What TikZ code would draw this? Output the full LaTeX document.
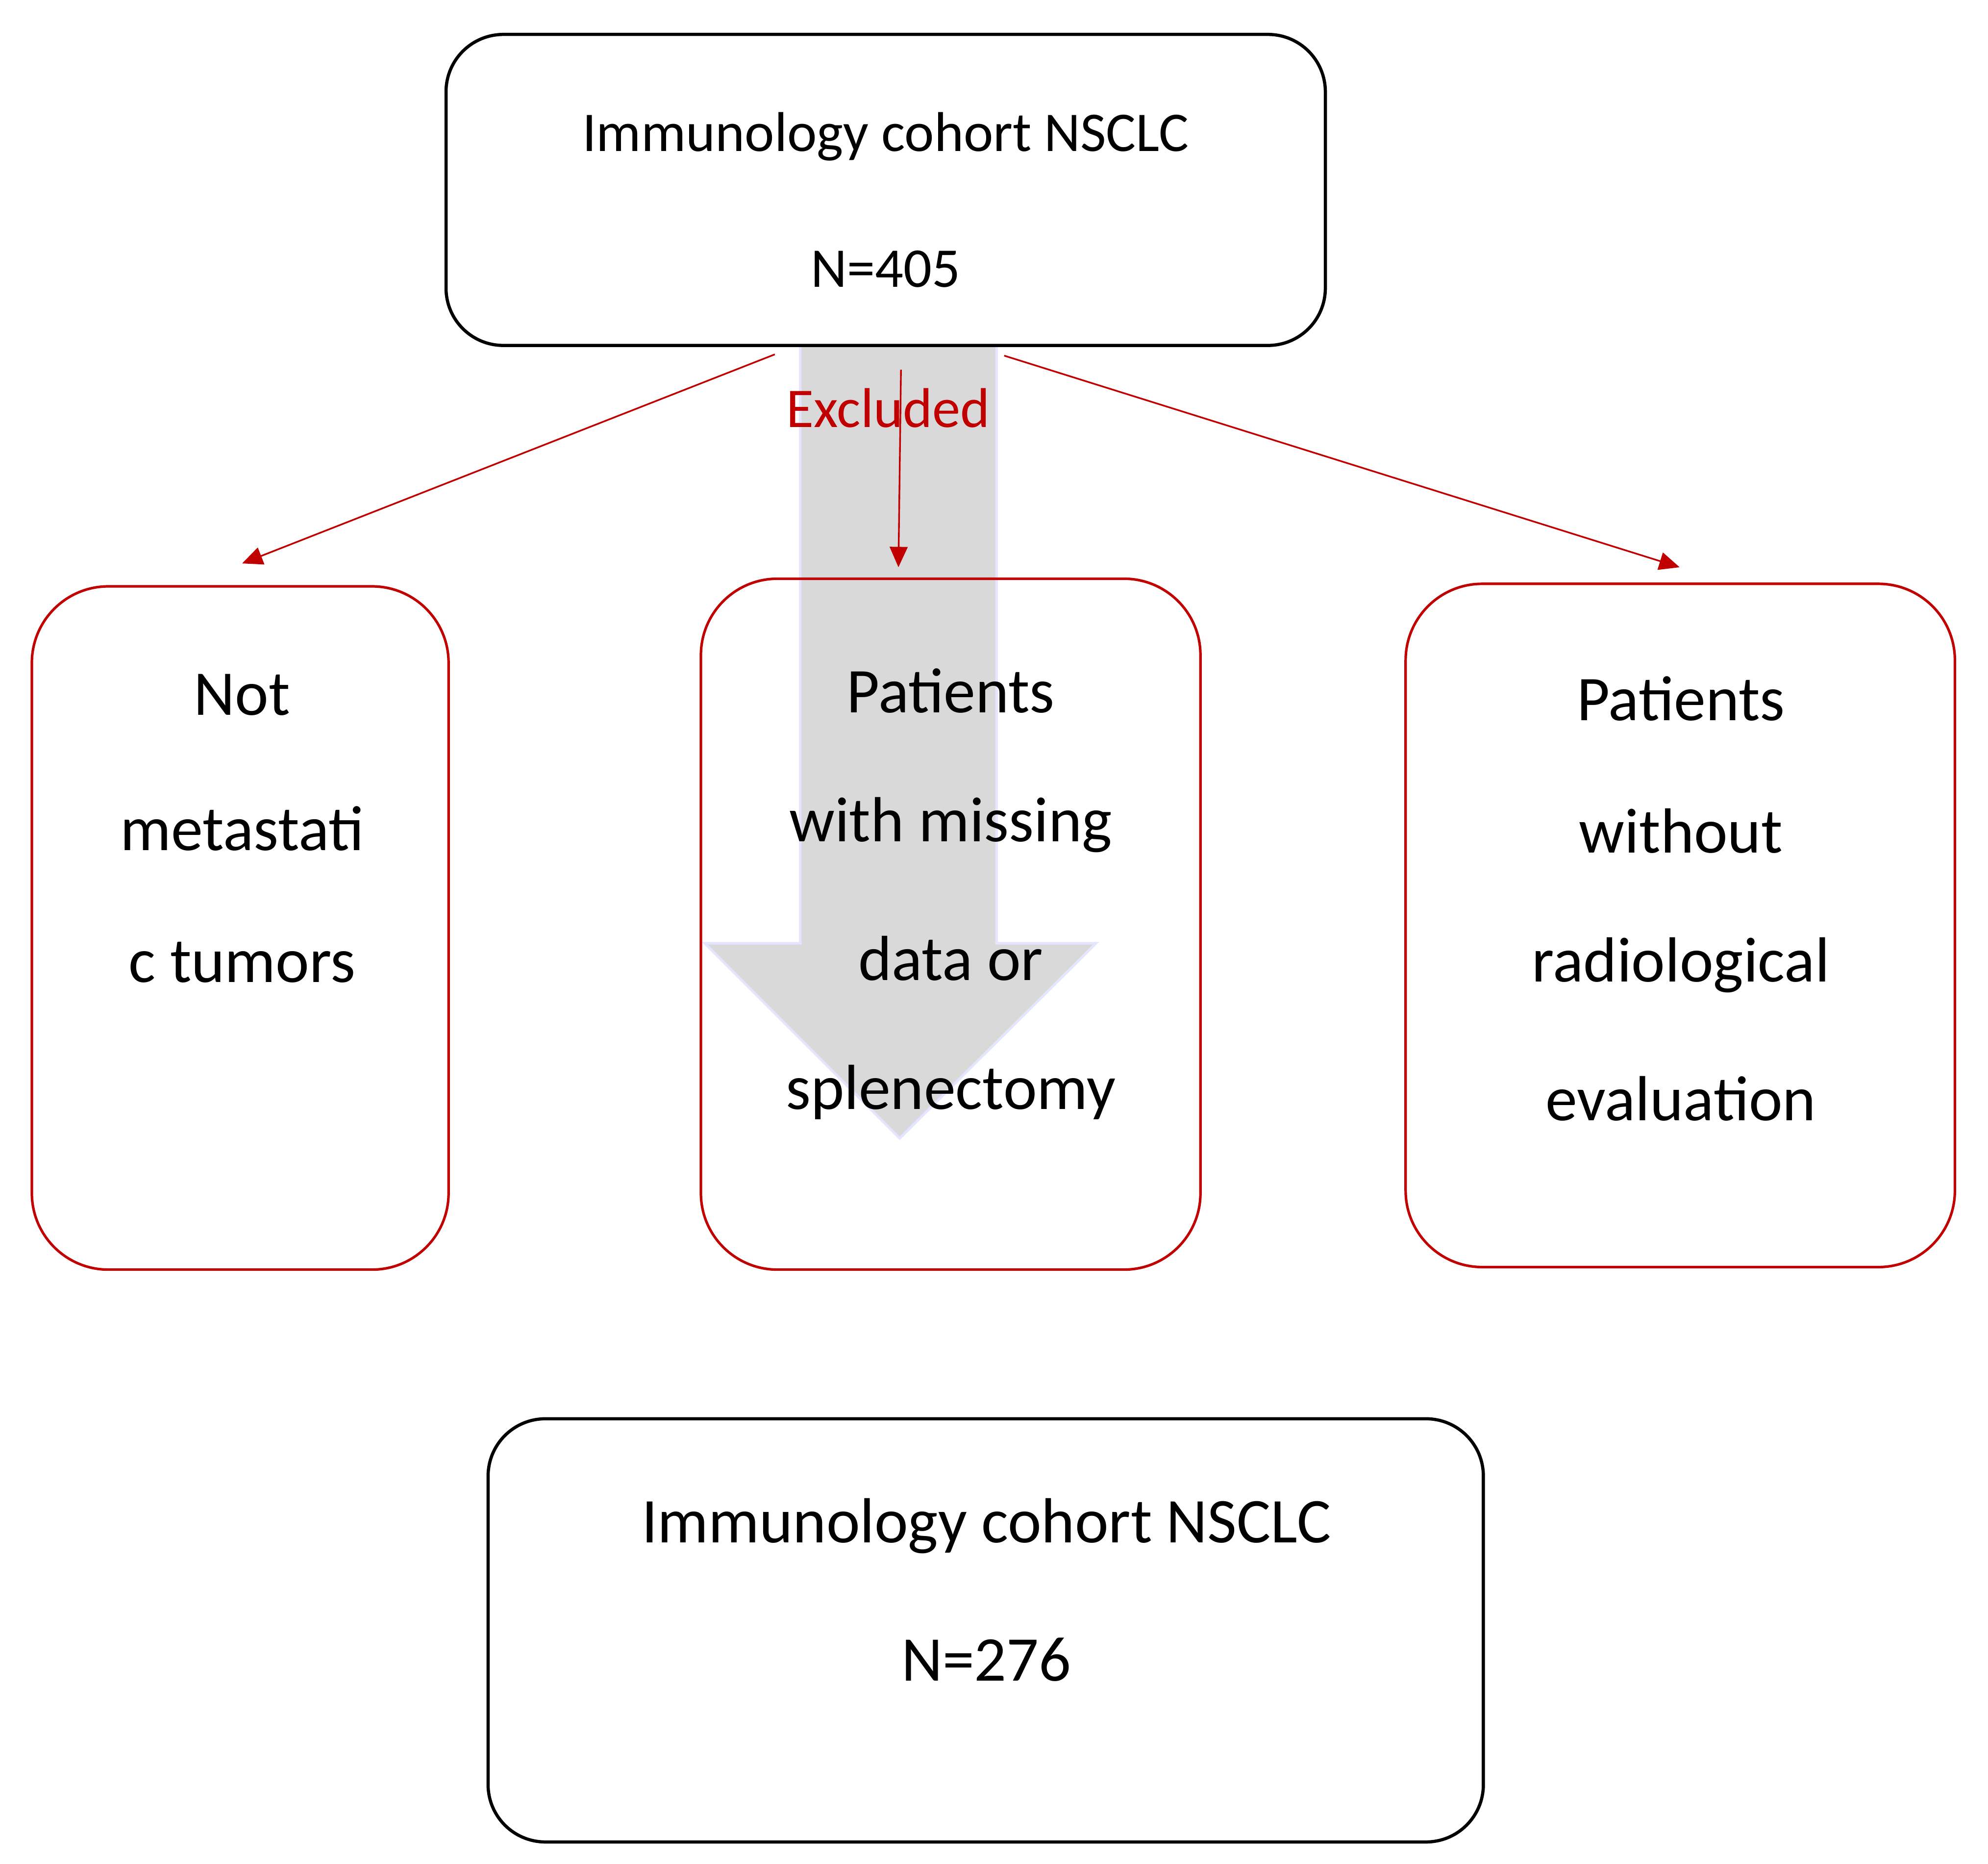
\documentclass[tikz,border=0pt]{standalone}
\usepackage{fontspec}
\setmainfont{Carlito}
\usetikzlibrary{arrows.meta}
\definecolor{rd}{HTML}{C00000}
\begin{document}
\begin{tikzpicture}[x=1pt,y=-1pt,
 blk/.style={draw=black,line width=2.5pt,rounded corners=45pt},
 red/.style={draw=rd,line width=2pt,rounded corners=60pt},
 ar/.style={draw=rd,line width=1.3pt,-{Triangle[length=16pt,width=14pt]}},
 t/.style={font=\fontsize{44}{50}\selectfont,inner sep=0pt},
 tb/.style={font=\fontsize{50}{56}\selectfont,inner sep=0pt}]
\useasboundingbox (0,0) rectangle (1560,1462);
\fill[gray!30,draw=blue!10,line width=2pt] (628,271) -- (782,271) -- (782,740) -- (860,740) -- (706,893) -- (553,740) -- (628,740) -- cycle;
\draw[blk] (350,27) rectangle (1040,271);
\node[t] (a1) at (695,107) {Immunology cohort NSCLC};
\node[t] (a2) at (695,211) {N=405};
\node[t,text=rd] (ex) at (697,320) {Excluded};
\draw[red] (25,460) rectangle (352,996);
\draw[red] (550,454) rectangle (942,996);
\draw[red] (1103,458) rectangle (1534,994);
\foreach \s/\y in {Not/545,metastati/650,c tumors/755} \node[tb] at (190,\y) {\s};
\foreach \s/\y in {Patients/542,with missing/647,data or/752,splenectomy/857} \node[tb] at (746,\y) {\s};
\foreach \s/\y in {Patients/548,without/652,radiological/757,evaluation/862} \node[tb] at (1319,\y) {\s};
\coordinate (s1) at (608,278); \coordinate (e1) at (190,442);
\coordinate (s2) at (707,290); \coordinate (e2) at (705,445);
\coordinate (s3) at (788,279); \coordinate (e3) at (1318,445);
\draw[ar] (s1) -- (e1); \draw[ar] (s2) -- (e2); \draw[ar] (s3) -- (e3);
\draw[blk] (383,1113) rectangle (1164,1445);
\node[tb] (b1) at (774,1197) {Immunology cohort NSCLC};
\node[tb] (b2) at (774,1302) {N=276};
\end{tikzpicture}
\end{document}
